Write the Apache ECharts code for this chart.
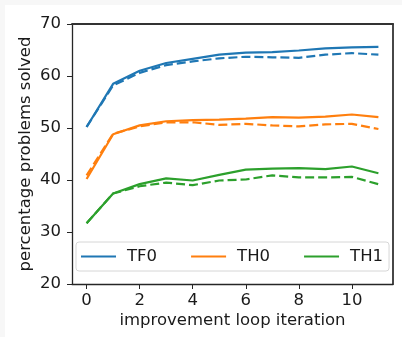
<!DOCTYPE html>
<html>
<head>
<meta charset="utf-8">
<script src="https://cdn.jsdelivr.net/npm/echarts@6/dist/echarts.min.js"></script>
<style>
html,body{margin:0;padding:0;background:#f7f7f7;}
#chart{position:absolute;left:5px;top:5px;width:397px;height:332px;background:#fff;}
</style>
</head>
<body>
<div id="chart"></div>
<script>
var iterations = [0,1,2,3,4,5,6,7,8,9,10,11];
var tf0Solid  = [50.2,58.5,61.0,62.5,63.3,64.1,64.5,64.6,64.9,65.3,65.5,65.6];
var tf0Dashed = [50.2,58.2,60.6,62.1,62.8,63.4,63.7,63.6,63.5,64.1,64.4,64.1];
var th0Solid  = [40.2,48.8,50.5,51.3,51.5,51.6,51.8,52.1,52.0,52.2,52.6,52.1];
var th0Dashed = [40.9,48.9,50.3,51.1,51.1,50.6,50.8,50.5,50.3,50.7,50.8,49.8];
var th1Solid  = [31.7,37.4,39.2,40.3,39.9,41.0,42.0,42.2,42.3,42.1,42.6,41.3];
var th1Dashed = [31.7,37.4,38.8,39.5,39.0,39.9,40.1,40.9,40.5,40.5,40.6,39.2];
var xTicks = [0,2,4,6,8,10];
var seriesNames = ['TF0','TH0','TH1'];
var colors = ['#1f77b4','#ff7f0e','#2ca02c'];
var xMin = -0.55, xMax = 11.55, yMin = 20, yMax = 70;

function pairs(v){ return iterations.map(function(x,i){ return [x, v[i]]; }); }
function mk(name, vals, color, dashed){
  return {
    name: name, type: 'line', data: pairs(vals), symbol: 'none', showSymbol: false,
    lineStyle: {color: color, width: 2.2, type: dashed ? [9,4] : 'solid'},
    itemStyle: {color: color}, z: dashed ? 2 : 3
  };
}
var chart = echarts.init(document.getElementById('chart'));
var F = 'DejaVu Sans';
var FS = 16.5;
var axisCol = '#262626';
var txt = '#1a1a1a';
chart.setOption({
  animation: false,
  grid: {left: 67, top: 19, right: 9, bottom: 53},
  legend: {
    data: seriesNames.map(function(n){ return {name: n}; }),
    left: 71, top: 237, orient: 'horizontal',
    padding: [6, 6, 6, 5], itemGap: 34, itemWidth: 35, itemHeight: 10,
    borderColor: '#d6d6d6', borderWidth: 1, borderRadius: 3, backgroundColor: '#fff',
    textStyle: {fontFamily: F, fontSize: FS, color: txt, padding: [0,0,0,6]},
    icon: 'path://M0,4 L35,4 L35,6 L0,6 Z'
  },
  xAxis: [{
    type: 'value', min: xMin, max: xMax,
    axisLine: {show: true, onZero: false, lineStyle: {color: axisCol, width: 1.3}},
    axisTick: {show: true, customValues: xTicks, length: 5, lineStyle: {color: axisCol}},
    axisLabel: {customValues: xTicks, fontFamily: F, fontSize: FS, color: txt, margin: 8},
    splitLine: {show: false},
    name: 'improvement loop iteration', nameLocation: 'middle', nameGap: 28, nameMoveOverlap: false,
    nameTextStyle: {fontFamily: F, fontSize: FS, color: txt}
  }, {
    type: 'value', position: 'top', min: xMin, max: xMax,
    axisLine: {show: true, onZero: false, lineStyle: {color: '#333333', width: 1.8}},
    axisTick: {show: false}, axisLabel: {show: false}, splitLine: {show: false}
  }],
  yAxis: [{
    type: 'value', min: yMin, max: yMax, interval: 10,
    axisLine: {show: true, onZero: false, lineStyle: {color: axisCol, width: 1.3}},
    axisTick: {show: true, length: 5, lineStyle: {color: axisCol}},
    axisLabel: {fontFamily: F, fontSize: FS, color: txt, margin: 11},
    splitLine: {show: false},
    name: 'percentage problems solved', nameLocation: 'middle', nameGap: 38, nameMoveOverlap: false,
    nameTextStyle: {fontFamily: F, fontSize: FS, color: txt}
  }, {
    type: 'value', position: 'right', min: yMin, max: yMax, interval: 10,
    axisLine: {show: true, onZero: false, lineStyle: {color: '#333333', width: 1.8}},
    axisTick: {show: false}, axisLabel: {show: false}, splitLine: {show: false}
  }],
  series: [
    mk('TF0', tf0Solid, colors[0], false),
    mk('TF0 dashed', tf0Dashed, colors[0], true),
    mk('TH0', th0Solid, colors[1], false),
    mk('TH0 dashed', th0Dashed, colors[1], true),
    mk('TH1', th1Solid, colors[2], false),
    mk('TH1 dashed', th1Dashed, colors[2], true)
  ]
});
</script>
</body>
</html>
